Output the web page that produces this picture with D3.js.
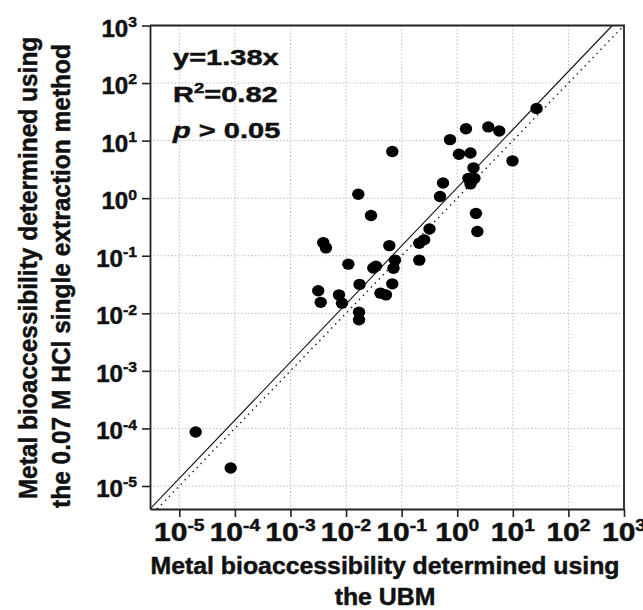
<!DOCTYPE html>
<html>
<head>
<meta charset="utf-8">
<script src="https://d3js.org/d3.v7.min.js"></script>
<style>
  body { margin: 0; background: #fff; }
  text { font-family: "Liberation Sans", Arial, sans-serif; font-weight: bold; fill: #111;
         stroke: #111; stroke-width: 0.45px; }
</style>
</head>
<body>
<svg id="chart" width="643" height="610"></svg>
<script>
// bioaccessibility, UBM (x) vs 0.07 M HCl single extraction (y)
var ubm = [1.97e-5, 8.4e-5, 3.16e-3, 3.5e-3, 3.89e-3, 4.35e-3, 7.46e-3, 8.45e-3, 0.011, 0.0166,
           0.0175, 0.0171, 0.0171, 0.0281, 0.0309, 0.0345, 0.0416, 0.0522, 0.060, 0.0679,
           0.0679, 0.0759, 0.0713, 0.2075, 0.2075, 0.254, 0.317, 0.490, 0.555, 0.741,
           1.075, 1.436, 1.73, 1.96, 1.59, 2.04, 1.73, 2.17, 2.30, 3.62,
           5.70, 9.87, 26.7];
var hcl = [8.66e-5, 2.05e-5, 0.0246, 0.0155, 0.169, 0.137, 0.0209, 0.0150, 0.0714, 1.17,
           0.0318, 0.0104, 0.0077, 0.499, 0.061, 0.0655, 0.0224, 0.0209, 0.150, 6.49,
           0.0325, 0.0839, 0.0604, 0.165, 0.0839, 0.189, 0.291, 1.07, 1.83, 10.4,
           5.81, 16.1, 6.11, 3.36, 2.21, 2.21, 1.77, 0.545, 0.263, 17.3,
           14.7, 4.45, 36.2];

// fitted line (solid) and 1:1 line (dotted), end points
var fitX = [Math.pow(10, -5.527), Math.pow(10, 2.79)];
var fitY = [Math.pow(10, -5.40), 1e3];
var oneX = [Math.pow(10, -5.40), 1e3];
var oneY = [Math.pow(10, -5.40), 1e3];

var tickExps = [-5, -4, -3, -2, -1, 0, 1, 2, 3];
var statLines = ["y=1.38x", "R2=0.82", "p > 0.05"];
var xTitle = ["Metal bioaccessibility determined using", "the UBM"];
var yTitle = ["Metal bioaccessibility determined using", "the 0.07 M HCl single extraction method"];

var pLeft = 150, pRight = 624, pTop = 25.5, pBottom = 509;

var svg = d3.select("#chart");

var x = d3.scaleLog()
    .domain([Math.pow(10, -5.527), 1e3])
    .range([pLeft, pRight]);
var y = d3.scaleLog()
    .domain([Math.pow(10, -5.40), 1e3])
    .range([pBottom, pTop]);

var tickVals = tickExps.map(function (e) { return Math.pow(10, e); });

// grid
var grid = svg.append("g");
grid.selectAll("line.gx")
    .data(tickVals.slice(0, -1))
    .enter().append("line")
    .attr("x1", function (d) { return x(d); })
    .attr("x2", function (d) { return x(d); })
    .attr("y1", pTop).attr("y2", pBottom)
    .attr("stroke", "#bdbdbd").attr("stroke-width", 1)
    .attr("stroke-dasharray", "1.5,2");
grid.selectAll("line.gy")
    .data(tickVals.slice(0, -1))
    .enter().append("line")
    .attr("y1", function (d) { return y(d); })
    .attr("y2", function (d) { return y(d); })
    .attr("x1", pLeft).attr("x2", pRight)
    .attr("stroke", "#bdbdbd").attr("stroke-width", 1)
    .attr("stroke-dasharray", "1.5,2");

// lines
svg.append("clipPath").attr("id", "plotclip")
    .append("rect").attr("x", pLeft).attr("y", pTop)
    .attr("width", pRight - pLeft).attr("height", pBottom - pTop);

var lineGen = d3.line()
    .x(function (d) { return x(d[0]); })
    .y(function (d) { return y(d[1]); });

svg.append("path")
    .attr("d", lineGen(d3.zip(oneX, oneY)))
    .attr("clip-path", "url(#plotclip)")
    .attr("fill", "none").attr("stroke", "#111")
    .attr("stroke-width", 1.4).attr("stroke-dasharray", "1.4,4.3");

svg.append("path")
    .attr("d", lineGen(d3.zip(fitX, fitY)))
    .attr("clip-path", "url(#plotclip)")
    .attr("fill", "none").attr("stroke", "#111")
    .attr("stroke-width", 1.1);

// points
svg.append("g").selectAll("ellipse")
    .data(d3.zip(ubm, hcl))
    .enter().append("ellipse")
    .attr("cx", function (d) { return x(d[0]); })
    .attr("cy", function (d) { return y(d[1]); })
    .attr("rx", 6.2).attr("ry", 5.7)
    .attr("fill", "#000");

// axes
var xAxis = d3.axisBottom(x).tickValues(tickVals).tickFormat("").tickSizeInner(8).tickSizeOuter(0);
var yAxis = d3.axisLeft(y).tickValues(tickVals).tickFormat("").tickSizeInner(8).tickSizeOuter(0);

var gx = svg.append("g").attr("transform", "translate(0," + pBottom + ")").call(xAxis);
var gy = svg.append("g").attr("transform", "translate(" + pLeft + ",0)").call(yAxis);
[gx, gy].forEach(function (g) {
  g.select(".domain").attr("stroke", "#222").attr("stroke-width", 1.8);
  g.selectAll(".tick line").attr("stroke", "#222").attr("stroke-width", 1.6);
});

// top and right border
svg.append("path")
    .attr("d", "M" + pLeft + "," + pTop + "H" + pRight + "V" + pBottom)
    .attr("fill", "none").attr("stroke", "#222").attr("stroke-width", 1.8);

// tick labels
function powLabel(g, e, size, supSize) {
  var t = g.append("text").attr("font-size", size + "px");
  t.append("tspan").text("10");
  t.append("tspan").attr("font-size", supSize + "px").attr("dy", -size * 0.42).text(e);
  return t;
}

tickExps.forEach(function (e) {
  var g = svg.append("g")
      .attr("transform", "translate(" + x(Math.pow(10, e)) + ",541) scale(1.2,1)");
  powLabel(g, e, 25, 16).attr("text-anchor", "middle");
});

tickExps.forEach(function (e) {
  var g = svg.append("g")
      .attr("transform", "translate(137," + (y(Math.pow(10, e)) + 11) + ") scale(1.05,1)");
  powLabel(g, e, 23, 15).attr("text-anchor", "end");
});

// stats text
var s0 = svg.append("g").attr("transform", "translate(173,65) scale(1.32,1)");
s0.append("text").attr("font-size", "22px").text(statLines[0]);
var s1 = svg.append("g").attr("transform", "translate(173,101.5) scale(1.32,1)");
var r2 = s1.append("text").attr("font-size", "22px");
r2.append("tspan").text("R");
r2.append("tspan").attr("font-size", "14px").attr("dy", -9).text("2");
r2.append("tspan").attr("dy", 9).text(statLines[1].slice(2));
var s2 = svg.append("g").attr("transform", "translate(173,138) scale(1.32,1)");
var pt = s2.append("text").attr("font-size", "22px");
pt.append("tspan").attr("font-style", "italic").text("p");
pt.append("tspan").text(statLines[2].slice(1));

// axis titles
xTitle.forEach(function (d, i) {
  svg.append("g")
      .attr("transform", "translate(385," + (574 + i * 31) + ") scale(1.08,1)")
    .append("text")
      .attr("text-anchor", "middle")
      .attr("font-size", "23px")
      .text(d);
});

yTitle.forEach(function (d, i) {
  svg.append("g")
      .attr("transform", "translate(" + (37 + i * 33) + "," + (268 + i * 8) + ") scale(1.08,1) rotate(-90)")
    .append("text")
      .attr("text-anchor", "middle")
      .attr("font-size", "24.5px")
      .text(d);
});
</script>
</body>
</html>
